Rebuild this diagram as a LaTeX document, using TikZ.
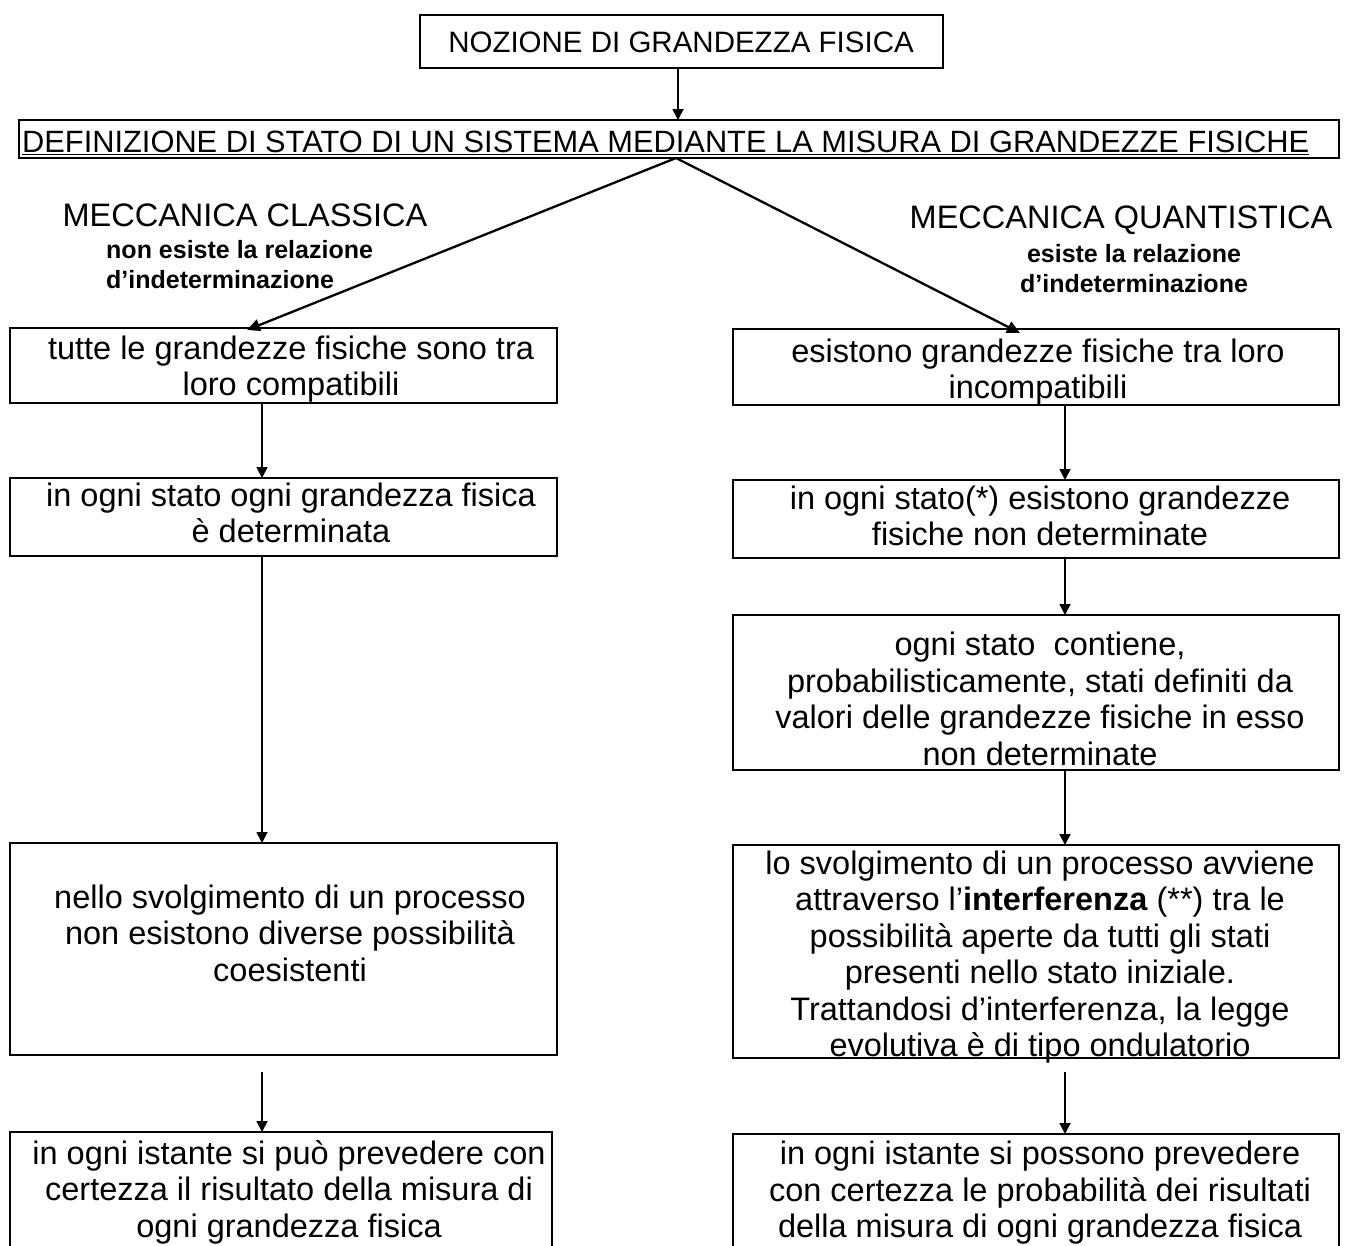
\documentclass[tikz,border=0pt]{standalone}
\usepackage{fontspec}
\setmainfont{Liberation Sans}
\usetikzlibrary{arrows.meta}
\begin{document}
\begin{tikzpicture}[x=1pt,y=-1pt,
 box/.style={draw, line width=2pt, inner sep=0pt, outer sep=0pt},
 txt/.style={inner sep=0pt, align=center, font=\fontsize{32.5}{36.5}\selectfont},
 head/.style={inner sep=0pt, font=\fontsize{32.5}{36}\selectfont},
 sub/.style={inner sep=0pt, font=\bfseries\fontsize{25}{29.5}\selectfont},
 arr/.style={line width=1.8pt, -{Triangle[length=11pt,width=11pt]}},
 arrd/.style={line width=2.3pt, -{Triangle[length=13pt,width=12pt]}},
]
\clip (0,0) rectangle (1348,1245);
\fill[white] (0,0) rectangle (1348,1245);

% boxes
\node[box, minimum width=523pt, minimum height=53pt] (top) at (681.5,41.5) {};
\node[box, minimum width=1320pt, minimum height=38pt] (def) at (679,139) {};
\node[box, minimum width=547pt, minimum height=75pt] (L1) at (283.5,365.5) {};
\node[box, minimum width=547pt, minimum height=78pt] (L2) at (283.5,517) {};
\node[box, minimum width=547pt, minimum height=212pt] (L3) at (283.5,949) {};
\node[box, minimum width=542pt, minimum height=128pt] (L4) at (281,1196) {};
\node[box, minimum width=606pt, minimum height=76pt] (R1) at (1036,367) {};
\node[box, minimum width=606pt, minimum height=78pt] (R2) at (1036,519) {};
\node[box, minimum width=606pt, minimum height=155pt] (R3) at (1036,692.5) {};
\node[box, minimum width=606pt, minimum height=213pt] (R4) at (1036,951.5) {};
\node[box, minimum width=606pt, minimum height=126pt] (R5) at (1036,1197) {};

% texts
\node[inner sep=0pt, font=\fontsize{29.5}{34}\selectfont] (tTop) at (681,42) {NOZIONE DI GRANDEZZA FISICA};
\node[inner sep=0pt, anchor=base west, font=\fontsize{30.8}{34}\selectfont] (tDef) at (22,152)
 {\underline{DEFINIZIONE DI STATO DI UN SISTEMA MEDIANTE LA MISURA DI GRANDEZZE FISICHE}};

\node[head] (tMC) at (245,215) {MECCANICA CLASSICA};
\node[sub, align=left, anchor=west] (sMC) at (106,264.5) {non esiste la relazione\\d’indeterminazione};
\node[head] (tMQ) at (1121,220) {MECCANICA QUANTISTICA};
\node[sub, align=center] (sMQ) at (1134,268.5) {esiste la relazione\\d’indeterminazione};

\node[txt] (tL1) at (291,369) {tutte le grandezze fisiche sono tra\\loro compatibili};
\node[txt] (tL2) at (291,513) {in ogni stato ogni grandezza fisica\\è determinata};
\node[txt] (tL3) at (290,933) {nello svolgimento di un processo\\non esistono diverse possibilità\\coesistenti};
\node[txt] (tL4) at (289,1192) {in ogni istante si può prevedere con\\certezza il risultato della misura di\\ogni grandezza fisica};

\node[txt] (tR1) at (1038,372) {esistono grandezze fisiche tra loro\\incompatibili};
\node[txt] (tR2) at (1040,516) {in ogni stato(*) esistono grandezze\\fisiche non determinate};
\node[txt] (tR3) at (1040,699) {ogni stato\ \ contiene,\\probabilisticamente, stati definiti da\\valori delle grandezze fisiche in esso\\non determinate};
\node[txt] (tR4) at (1040,957) {lo svolgimento di un processo avviene\\attraverso l’\textbf{interferenza} (**) tra le\\possibilità aperte da tutti gli stati\\presenti nello stato iniziale.\\Trattandosi d’interferenza, la legge\\evolutiva è di tipo ondulatorio};
\node[txt] (tR5) at (1040,1193) {in ogni istante si possono prevedere\\con certezza le probabilità dei risultati\\della misura di ogni grandezza fisica};

% connectors
\draw[arr] ([xshift=-3.5pt]top.south) -- ([xshift=-1pt]def.north);
\draw[arrd] ([xshift=-3pt]def.south) -- ([xshift=-36.5pt,yshift=-2pt]L1.north);
\draw[arrd] ([xshift=-3pt]def.south) -- ([xshift=-16pt,yshift=-4pt]R1.north);

\draw[arr] ([xshift=-21.5pt]L1.south) -- ([xshift=-21.5pt]L2.north);
\draw[arr] ([xshift=-21.5pt]L2.south) -- ([xshift=-21.5pt]L3.north);
\coordinate (c1) at (262,1072);
\draw[arr] (c1) -- ([xshift=-19pt]L4.north);

\draw[arr] ([xshift=29pt]R1.south) -- ([xshift=29pt]R2.north);
\draw[arr] ([xshift=29pt]R2.south) -- ([xshift=29pt]R3.north);
\draw[arr] ([xshift=29pt]R3.south) -- ([xshift=29pt]R4.north);
\coordinate (c2) at (1065,1072);
\draw[arr] (c2) -- ([xshift=29pt]R5.north);
\end{tikzpicture}
\end{document}
